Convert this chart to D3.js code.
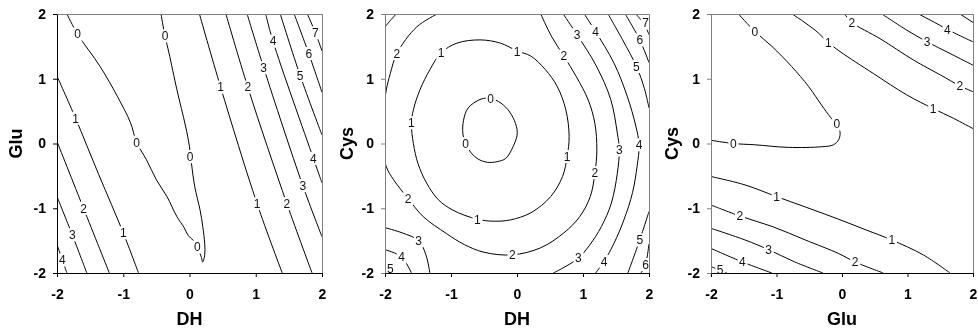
<!DOCTYPE html>
<html>
<head>
<meta charset="utf-8">
<script src="https://cdn.jsdelivr.net/npm/d3@7"></script>
<style>
  html, body { margin: 0; padding: 0; background: #fff; }
  svg { display: block; font-family: "Liberation Sans", Arial, sans-serif; will-change: transform; }
  text { -webkit-font-smoothing: antialiased; }
</style>
</head>
<body>
<svg id="chart" width="978" height="334"></svg>
<script>
// Factor axes (coded levels) and their names
const tickValues = [-2, -1, 0, 1, 2];
const xNames = ["DH", "DH", "Glu"];
const yNames = ["Glu", "Cys", "Cys"];

// Traced contour lines of the response, in coded factor units.
// Each line: level, points [x, y] along the isoline, points where the level is printed.
const dhGluContours = [
  { level: 0, points: [[-1.85, 2], [-1.69, 1.69], [-1.35, 1.19], [-1.09, 0.73], [-0.89, 0.32], [-0.80, 0.02],
      [-0.65, -0.25], [-0.50, -0.56], [-0.34, -0.82], [-0.19, -1.13], [-0.08, -1.30], [-0.02, -1.42],
      [0.06, -1.50], [0.12, -1.60], [0.18, -1.76], [0.20, -1.83], [0.23, -1.72], [0.23, -1.55],
      [0.20, -1.28], [0.16, -1.03], [0.08, -0.67], [0.03, -0.31], [0.0, -0.05], [-0.06, 0.27],
      [-0.19, 0.83], [-0.31, 1.40], [-0.37, 1.66], [-0.43, 2]],
    labels: [[-1.69, 1.69], [-0.80, 0.02], [0.12, -1.60], [0.01, -0.20], [-0.37, 1.66]] },
  { level: 1, points: [[-2, 1.04], [-1.72, 0.39], [-1.37, -0.48], [-1.0, -1.38], [-0.77, -2]], labels: [[-1.72, 0.39], [-1.0, -1.38]] },
  { level: 2, points: [[-2, 0.03], [-1.60, -1.0], [-1.21, -2]], labels: [[-1.60, -1.0]] },
  { level: 3, points: [[-2, -0.82], [-1.77, -1.41], [-1.55, -2]], labels: [[-1.77, -1.41]] },
  { level: 4, points: [[-2, -1.56], [-1.92, -1.80], [-1.85, -2]], labels: [[-1.92, -1.80]] },
  { level: 1, points: [[0.15, 2], [0.47, 0.87], [1.02, -0.93], [1.40, -2]], labels: [[0.47, 0.87], [1.02, -0.93]] },
  { level: 2, points: [[0.55, 2], [0.88, 0.87], [1.47, -0.93], [1.85, -2]], labels: [[0.88, 0.87], [1.47, -0.93]] },
  { level: 3, points: [[0.87, 2], [1.12, 1.17], [1.71, -0.65], [2, -1.44]], labels: [[1.12, 1.17], [1.71, -0.65]] },
  { level: 4, points: [[1.15, 2], [1.26, 1.58], [1.87, -0.23], [2, -0.61]], labels: [[1.26, 1.58], [1.87, -0.23]] },
  { level: 5, points: [[1.37, 2], [1.67, 1.05], [2, 0.13]], labels: [[1.67, 1.05]] },
  { level: 6, points: [[1.58, 2], [1.80, 1.39], [2, 0.79]], labels: [[1.80, 1.39]] },
  { level: 7, points: [[1.78, 2], [1.90, 1.71], [2, 1.43]], labels: [[1.90, 1.71]] }
];

const dhCysContours = [
  { level: 0, closed: true,
    points: [[-0.56, 0.68], [-0.74, 0.55], [-0.81, 0.36], [-0.82, 0.15], [-0.78, 0.0], [-0.69, -0.15],
      [-0.59, -0.24], [-0.45, -0.29], [-0.30, -0.28], [-0.17, -0.23], [-0.06, -0.05], [0.0, 0.12],
      [0.0, 0.22], [-0.06, 0.40], [-0.17, 0.56], [-0.32, 0.67], [-0.45, 0.70]],
    labels: [[-0.40, 0.69], [-0.78, 0.0]] },
  { level: 1, closed: true,
    points: [[-0.56, 1.60], [-0.91, 1.55], [-1.15, 1.40], [-1.32, 1.14], [-1.47, 0.83], [-1.57, 0.52],
      [-1.60, 0.30], [-1.57, 0.0], [-1.50, -0.31], [-1.37, -0.61], [-1.19, -0.87], [-0.97, -1.03],
      [-0.60, -1.17], [-0.35, -1.20], [-0.10, -1.18], [0.21, -1.07], [0.51, -0.82], [0.69, -0.51],
      [0.76, -0.20], [0.79, 0.11], [0.74, 0.52], [0.61, 0.88], [0.43, 1.14], [0.21, 1.35],
      [0.0, 1.43], [-0.25, 1.55]],
    labels: [[-1.15, 1.40], [-1.60, 0.32], [-0.60, -1.17], [0.76, -0.20], [0.0, 1.42]] },
  { level: 2,
    points: [[-1.21, 2], [-1.52, 1.80], [-1.82, 1.39], [-1.92, 1.08], [-1.98, 0.83], [-2.03, 0.4],
      [-2.03, -0.1], [-1.98, -0.36], [-1.87, -0.56], [-1.65, -0.85], [-1.42, -1.13], [-1.07, -1.39],
      [-0.80, -1.56], [-0.50, -1.68], [-0.07, -1.72], [0.36, -1.61], [0.71, -1.38], [0.95, -1.13],
      [1.11, -0.82], [1.18, -0.46], [1.21, -0.10], [1.18, 0.31], [1.08, 0.67], [0.90, 1.03],
      [0.71, 1.35], [0.52, 1.66], [0.36, 2]],
    labels: [[-1.82, 1.39], [-1.65, -0.85], [-0.07, -1.72], [1.18, -0.45], [0.71, 1.35]] },
  { level: 3,
    points: [[0.70, 2], [0.91, 1.68], [1.20, 1.20], [1.42, 0.68], [1.52, 0.16], [1.55, -0.10],
      [1.52, -0.46], [1.43, -0.92], [1.28, -1.28], [1.10, -1.57], [0.93, -1.77], [0.70, -1.92], [0.55, -2]],
    labels: [[0.91, 1.68], [1.55, -0.10], [0.93, -1.77]] },
  { level: 3, points: [[-2, -1.30], [-1.74, -1.38], [-1.49, -1.50], [-1.38, -1.72], [-1.32, -2]], labels: [[-1.49, -1.50]] },
  { level: 3, points: [[-2, 1.80], [-1.91, 1.91], [-1.83, 2]], labels: [] },
  { level: 4,
    points: [[1.02, 2], [1.19, 1.73], [1.47, 1.24], [1.67, 0.73], [1.80, 0.27], [1.85, -0.02],
      [1.82, -0.35], [1.75, -0.76], [1.62, -1.18], [1.47, -1.54], [1.32, -1.82], [1.19, -2]],
    labels: [[1.19, 1.73], [1.85, -0.02], [1.32, -1.82]] },
  { level: 4, points: [[-2, -1.64], [-1.75, -1.75], [-1.60, -2]], labels: [[-1.75, -1.75]] },
  { level: 5, points: [[1.38, 2], [1.60, 1.60], [1.81, 1.19], [1.93, 0.85], [2, 0.55]], labels: [[1.81, 1.19]] },
  { level: 5, points: [[2, -1.05], [1.86, -1.49], [1.68, -2]], labels: [[1.86, -1.49]] },
  { level: 5, points: [[-2, -1.86], [-1.92, -1.93], [-1.86, -2]], labels: [[-1.92, -1.93]] },
  { level: 6, points: [[1.64, 2], [1.86, 1.60], [2, 1.25]], labels: [[1.86, 1.60]] },
  { level: 6, points: [[2, -1.55], [1.95, -1.85], [1.88, -2]], labels: [[1.95, -1.87]] },
  { level: 7, points: [[1.80, 2], [1.93, 1.84], [2, 1.68]], labels: [[1.95, 1.86]] }
];

const gluCysContours = [
  { level: 0,
    points: [[-1.58, 2], [-1.33, 1.73], [-1.07, 1.50], [-0.77, 1.19], [-0.51, 0.88], [-0.31, 0.59],
      [-0.18, 0.41], [-0.09, 0.30], [-0.03, 0.18], [-0.05, 0.06], [-0.13, -0.02], [-0.31, -0.05],
      [-0.82, -0.06], [-1.33, -0.02], [-1.66, 0.0], [-2, 0.05]],
    labels: [[-1.33, 1.73], [-0.08, 0.30], [-1.66, 0.0]] },
  { level: 1,
    points: [[-0.76, 2], [-0.41, 1.75], [-0.21, 1.56], [-0.03, 1.42], [0.48, 1.08], [0.99, 0.75],
      [1.39, 0.54], [1.70, 0.39], [2, 0.23]],
    labels: [[-0.21, 1.56], [1.39, 0.54]] },
  { level: 2, points: [[0.04, 2], [0.15, 1.87], [0.58, 1.62], [1.09, 1.29], [1.50, 1.06], [1.80, 0.89], [2, 0.80]],
    labels: [[0.15, 1.86], [1.80, 0.89]] },
  { level: 3, points: [[0.61, 2], [0.99, 1.75], [1.30, 1.57], [1.65, 1.39], [2, 1.21]], labels: [[1.30, 1.57]] },
  { level: 4, points: [[1.17, 2], [1.45, 1.85], [1.61, 1.76], [2, 1.57]], labels: [[1.61, 1.76]] },
  { level: 5, points: [[1.80, 2], [2, 1.87]], labels: [] },
  { level: 1,
    points: [[-2, -0.51], [-1.48, -0.64], [-1.0, -0.82], [-0.56, -0.98], [-0.05, -1.17], [0.38, -1.34],
      [0.76, -1.49], [1.24, -1.72], [1.65, -2]],
    labels: [[-1.0, -0.82], [0.76, -1.49]] },
  { level: 2, points: [[-2, -0.95], [-1.56, -1.12], [-1.07, -1.28], [-0.56, -1.49], [-0.05, -1.70], [0.20, -1.83], [0.63, -2]],
    labels: [[-1.56, -1.12], [0.20, -1.83]] },
  { level: 3, points: [[-2, -1.31], [-1.48, -1.49], [-1.12, -1.64], [-0.72, -1.83], [-0.29, -2]], labels: [[-1.12, -1.64]] },
  { level: 4, points: [[-2, -1.62], [-1.52, -1.83], [-1.07, -2]], labels: [[-1.52, -1.83]] },
  { level: 5, points: [[-2, -1.90], [-1.86, -1.96], [-1.76, -2]], labels: [[-1.86, -1.95]] }
];

const contourSets = [dhGluContours, dhCysContours, gluCysContours];

// Panel layout
const plotTop = 14, plotBottom = 273;
const frames = [
  { left: 57, right: 322, yTitleX: 22, leftAxisColor: "#000" },
  { left: 385, right: 649, yTitleX: 353, leftAxisColor: "#808080" },
  { left: 711, right: 973, yTitleX: 678, leftAxisColor: "#808080" }
];

const svg = d3.select("#chart");
const defs = svg.append("defs");

frames.forEach((f, i) => {
  const x = d3.scaleLinear().domain([-2, 2]).range([f.left, f.right]);
  const y = d3.scaleLinear().domain([-2, 2]).range([plotBottom, plotTop]);
  const panel = svg.append("g").attr("class", "panel");

  const clipId = "plot-clip-" + i;
  defs.append("clipPath").attr("id", clipId)
    .append("rect")
    .attr("x", f.left).attr("y", plotTop)
    .attr("width", f.right - f.left).attr("height", plotBottom - plotTop);

  const openLine = d3.line().x(d => x(d[0])).y(d => y(d[1])).curve(d3.curveCatmullRom.alpha(0.5));
  const closedLine = d3.line().x(d => x(d[0])).y(d => y(d[1])).curve(d3.curveCatmullRomClosed.alpha(0.5));

  // isolines
  panel.append("g").attr("clip-path", `url(#${clipId})`)
    .selectAll("path")
    .data(contourSets[i])
    .join("path")
    .attr("d", c => (c.closed ? closedLine : openLine)(c.points))
    .attr("fill", "none")
    .attr("stroke", "#000")
    .attr("stroke-width", 1);

  // level labels, each on a white patch that breaks its line
  const labelLayer = panel.append("g");
  contourSets[i].forEach(c => {
    c.labels.forEach(p => {
      const cx = x(p[0]), cy = y(p[1]);
      const t = labelLayer.append("text")
        .attr("x", cx).attr("y", cy + 4.3)
        .attr("text-anchor", "middle")
        .attr("font-size", 12)
        .attr("fill", "#111")
        .text(c.level);
      const bb = t.node().getBBox();
      labelLayer.insert("rect", () => t.node())
        .attr("x", bb.x - 1.5).attr("y", cy - 6.5)
        .attr("width", bb.width + 3).attr("height", 13)
        .attr("fill", "#fff");
    });
  });

  // frame
  panel.append("rect")
    .attr("x", f.left + 0.5).attr("y", plotTop + 0.5)
    .attr("width", f.right - f.left).attr("height", plotBottom - plotTop)
    .attr("fill", "none").attr("stroke", "#808080").attr("stroke-width", 1);

  // axes
  const xAxis = d3.axisBottom(x).tickValues(tickValues).tickFormat(d => String(d))
    .tickSize(4).tickSizeOuter(0).tickPadding(12);
  const yAxis = d3.axisLeft(y).tickValues(tickValues).tickFormat(d => String(d))
    .tickSize(4).tickSizeOuter(0).tickPadding(7);

  const gx = panel.append("g").attr("transform", `translate(0,${plotBottom})`).call(xAxis);
  const gy = panel.append("g").attr("transform", `translate(${f.left},0)`).call(yAxis);
  [gx, gy].forEach(g => {
    g.attr("font-family", null).attr("font-size", null);
    g.selectAll("text")
      .attr("font-family", "'Liberation Sans', Arial, sans-serif")
      .attr("font-size", 14)
      .attr("font-weight", "bold")
      .attr("fill", "#000");
  });
  gx.selectAll(".domain, .tick line").attr("stroke", "#000");
  gy.selectAll(".domain, .tick line").attr("stroke", f.leftAxisColor);

  // axis titles
  panel.append("text")
    .attr("x", (f.left + f.right) / 2).attr("y", 325)
    .attr("text-anchor", "middle")
    .attr("font-size", 18).attr("font-weight", "bold")
    .text(xNames[i]);
  panel.append("text")
    .attr("transform", `translate(${f.yTitleX},${(plotTop + plotBottom) / 2}) rotate(-90)`)
    .attr("text-anchor", "middle")
    .attr("font-size", 18).attr("font-weight", "bold")
    .text(yNames[i]);
});
</script>
</body>
</html>
